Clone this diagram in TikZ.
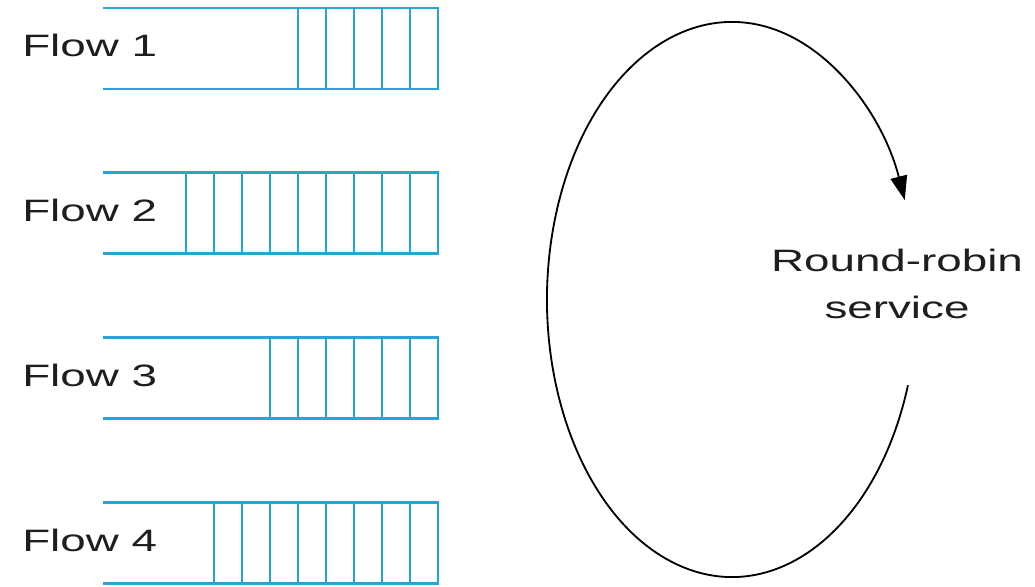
\documentclass[tikz,border=0pt]{standalone}
\usepackage{fontspec}
\setmainfont{Liberation Sans}[FakeStretch=1.48]
\usetikzlibrary{arrows.meta}

\definecolor{queueblue}{RGB}{38,164,214}
\definecolor{textgrey}{RGB}{30,30,30}

\tikzset{
    queue/.style={draw=queueblue, line width=1.6pt},
    flowlabel/.style={anchor=base west, inner sep=0pt, text=textgrey, font=\fontsize{22}{26}\selectfont},
    servicelabel/.style={align=center, inner sep=0pt, text=textgrey, font=\fontsize{22}{34}\selectfont},
}

\begin{document}
\begin{tikzpicture}
    \useasboundingbox (0,0) rectangle (25.875,14.65);

    % Queues: number / vertical centre / packets waiting
    \foreach \i/\y/\n in {1/13.44/5, 2/9.325/9, 3/5.2/6, 4/1.075/8} {
        \node[flowlabel] (flow\i) at (0.55,\y-0.2) {Flow \i};
        \draw[queue] (2.575,\y+1.0125) -- (10.95,\y+1.0125) -- (10.95,\y-1.0125) -- (2.575,\y-1.0125);
        \foreach \k in {1,...,\n}
            \draw[queue] (10.95-0.7*\k,\y+1.0125) -- (10.95-0.7*\k,\y-1.0125);
    }

    % Round-robin loop
    \coordinate (loop) at (18.3,7.1625);
    \draw[line width=1.3pt, -{Triangle[length=0.6cm, width=0.42cm]}]
        ([shift={(-18:4.625 and 6.9375)}] loop)
        arc[start angle=-18, end angle=-339, x radius=4.625, y radius=6.9375];

    % Label
    \node[servicelabel] (rr) at (22.425,7.55) {Round-robin\\service};
\end{tikzpicture}
\end{document}
